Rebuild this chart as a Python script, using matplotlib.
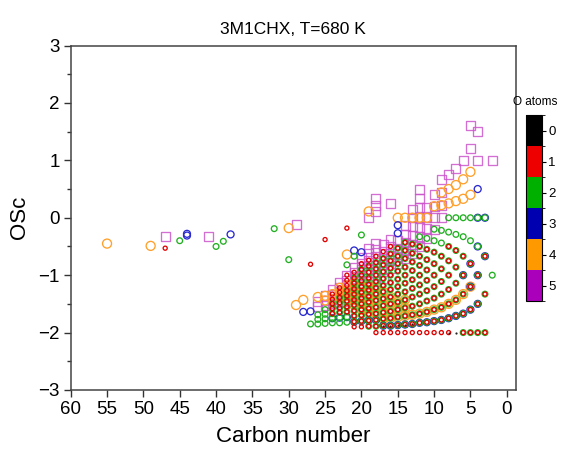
import matplotlib
matplotlib.use("Agg")
import matplotlib.pyplot as plt
from matplotlib.colors import ListedColormap, BoundaryNorm
from matplotlib.cm import ScalarMappable
from matplotlib.ticker import MultipleLocator

plt.rcParams['font.family'] = ['Liberation Sans', 'DejaVu Sans']

title = "3M1CHX, T=680 K"
x_label = "Carbon number"
y_label = "OSc"
x_ticks = [60, 55, 50, 45, 40, 35, 30, 25, 20, 15, 10, 5, 0]
y_ticks = [-3, -2, -1, 0, 1, 2, 3]
o_atom_labels = ["0", "1", "2", "3", "4", "5"]
o_atom_colors = ["#000000", "#ee0000", "#00b000", "#0000b0", "#ff9900", "#aa00bb"]

# OSc lattice values read per carbon number
LATTICE = {
    3: [-2.0, -1.33, -0.67, 0.0],
    4: [-2.0, -1.5, -1.0, -0.5, 0.0, 0.5, 1.0, 1.5],
    5: [-2.0, -1.6, -1.2, -0.8, -0.4, 0.0, 0.4, 0.8, 1.2, 1.6],
    6: [-2.0, -1.67, -1.33, -1.0, -0.67, -0.33, 0.0, 0.33, 0.67, 1.0],
    7: [-2.0, -1.71, -1.43, -1.14, -0.86, -0.57, -0.29, 0.0, 0.29, 0.57, 0.86],
    8: [-2.0, -1.75, -1.5, -1.25, -1.0, -0.75, -0.5, -0.25, 0.0, 0.25, 0.5, 0.75],
    9: [-2.0, -1.78, -1.56, -1.33, -1.11, -0.89, -0.67, -0.44, -0.22, 0.0, 0.22, 0.44, 0.67],
    10: [-2.0, -1.8, -1.6, -1.4, -1.2, -1.0, -0.8, -0.6, -0.4, -0.2, 0.0, 0.2, 0.4],
    11: [-2.0, -1.82, -1.64, -1.45, -1.27, -1.09, -0.91, -0.73, -0.55, -0.36, -0.18, 0.0, 0.18],
    12: [-2.0, -1.83, -1.67, -1.5, -1.33, -1.17, -1.0, -0.83, -0.67, -0.5, -0.33, -0.17, 0.0, 0.17, 0.33, 0.5],
    13: [-2.0, -1.85, -1.69, -1.54, -1.38, -1.23, -1.08, -0.92, -0.77, -0.62, -0.46, -0.31, -0.15, 0.0, 0.15],
    14: [-2.0, -1.86, -1.71, -1.57, -1.43, -1.29, -1.14, -1.0, -0.86, -0.71, -0.57, -0.43, -0.29, -0.14, 0.0],
    15: [-2.0, -1.87, -1.73, -1.6, -1.47, -1.33, -1.2, -1.07, -0.93, -0.8, -0.67, -0.53, -0.4, -0.27, -0.13, 0.0],
    16: [-2.0, -1.88, -1.75, -1.63, -1.5, -1.38, -1.25, -1.13, -1.0, -0.88, -0.75, -0.63, -0.5, -0.38],
    17: [-2.0, -1.88, -1.76, -1.65, -1.53, -1.41, -1.29, -1.18, -1.06, -0.94, -0.82, -0.71, -0.59, -0.47],
    18: [-2.0, -1.89, -1.78, -1.67, -1.56, -1.44, -1.33, -1.22, -1.11, -1.0, -0.89, -0.78, -0.67, -0.56, -0.44],
    19: [-1.89, -1.79, -1.68, -1.58, -1.47, -1.37, -1.26, -1.16, -1.05, -0.95, -0.84, -0.74, -0.63, -0.53],
    20: [-1.9, -1.8, -1.7, -1.6, -1.5, -1.4, -1.3, -1.2, -1.1, -1.0, -0.9, -0.8, -0.7],
    21: [-1.9, -1.81, -1.71, -1.62, -1.52, -1.43, -1.33, -1.24, -1.14, -1.05, -0.95, -0.86],
    22: [-1.82, -1.73, -1.64, -1.55, -1.45, -1.36, -1.27, -1.18, -1.09, -1.0],
    23: [-1.83, -1.74, -1.65, -1.57, -1.48, -1.39, -1.3, -1.22, -1.13],
    24: [-1.83, -1.75, -1.67, -1.58, -1.5, -1.42, -1.33, -1.25],
    25: [-1.84, -1.76, -1.68, -1.6, -1.52, -1.44, -1.36],
    26: [-1.85, -1.77, -1.69, -1.62, -1.54, -1.46, -1.38],
    27: [-1.85, -1.78, -1.7, -1.63],
}

# which lattice values carry each O-atom count: carbon -> [(low, high), ...]
RED_BANDS = {3: [(-2, -0.67)], 4: [(-2, -1.0)], 5: [(-2, -0.8)], 6: [(-2, -0.67)],
             7: [(-1.71, -0.57)], 8: [(-2, -0.5)], 9: [(-2, -0.6)], 10: [(-2, -0.6)],
             11: [(-2, -0.5)], 12: [(-2, -0.5)], 13: [(-2, -0.46)], 14: [(-2, -0.43)],
             15: [(-2, -0.53)], 16: [(-2, -0.5)], 17: [(-2, -0.59)], 18: [(-2, -0.67)],
             19: [(-1.89, -0.74)], 20: [(-1.9, -0.8)], 21: [(-1.9, -0.95)],
             22: [(-1.64, -1.0)], 23: [(-1.65, -1.22)], 24: [(-1.67, -1.33)]}
RED_EXTRA_C = [22, 25, 27, 47]
RED_EXTRA_OSC = [-0.18, -0.38, -0.81, -0.53]

GREEN_BANDS = {3: [(-2, 0)], 4: [(-2, 0)], 5: [(-2, 0)], 6: [(-2, 0)], 7: [(-1.71, 0)],
               8: [(-1.75, 0)], 9: [(-1.78, -0.22)], 10: [(-1.8, -0.2)], 11: [(-1.82, -0.36)],
               12: [(-1.83, -0.33)], 13: [(-1.85, -0.46)], 14: [(-1.86, -0.43)],
               15: [(-1.87, -0.53)], 16: [(-1.88, -0.63)], 17: [(-1.88, -0.71)],
               18: [(-1.89, -0.78)], 19: [(-1.89, -0.84)], 20: [(-1.8, -0.9)],
               21: [(-1.81, -1.05)], 22: [(-1.82, -1.27)], 23: [(-1.83, -1.39)],
               24: [(-1.83, -1.5)], 25: [(-1.84, -1.6)], 26: [(-1.85, -1.69)],
               27: [(-1.85, -1.85)]}
GREEN_EXTRA_C = [2, 20, 21, 22, 30, 32, 39, 40, 45]
GREEN_EXTRA_OSC = [-1.0, -0.3, -0.67, -0.82, -0.73, -0.19, -0.41, -0.5, -0.4]

BLUE_C = [4, 5, 6, 7, 8, 9, 10, 11, 12, 13, 14, 15, 16, 17,
          3, 3, 4, 4, 4, 4, 5, 5, 6,
          18, 19, 20, 21, 22, 23, 24,
          15, 15, 20, 21, 27, 28, 38, 44, 44]
BLUE_OSC = [-1.5, -1.6, -1.67, -1.71, -1.75, -1.78, -1.8, -1.82, -1.83, -1.85, -1.86, -1.87, -1.88, -1.88,
            -0.67, 0.0, -1.0, -0.5, 0.0, 0.5, -0.8, -1.2, -1.0,
            -1.78, -1.79, -1.8, -1.81, -1.73, -1.74, -1.75,
            -0.13, -0.27, -0.6, -0.57, -1.63, -1.64, -0.29, -0.28, -0.31]

ORANGE_BANDS = {5: [(-1.2, -1.2), (0.4, 0.8)], 6: [(-1.33, -1.33), (0.33, 0.67)],
                7: [(-1.43, -1.43), (0.29, 0.57)], 8: [(-1.5, -1.5), (0.25, 0.5)],
                9: [(-1.56, -1.56), (0.22, 0.44)], 10: [(-1.6, -1.6), (0.2, 0.2)],
                11: [(-1.64, -1.64), (0, 0)], 12: [(-1.67, -1.67), (0, 0)],
                13: [(-1.69, -1.69), (0, 0)], 14: [(-1.71, -1.43), (0, 0)],
                15: [(-1.73, -1.47), (0, 0)], 16: [(-1.75, -1.38)], 17: [(-1.76, -1.29)],
                18: [(-1.67, -1.22)], 19: [(-1.68, -1.16)], 20: [(-1.6, -1.2)],
                21: [(-1.52, -1.14)], 22: [(-1.45, -1.18)], 23: [(-1.39, -1.22)],
                24: [(-1.42, -1.33)], 25: [(-1.44, -1.36)], 26: [(-1.38, -1.38)]}
ORANGE_EXTRA_C = [19, 22, 28, 29, 30, 49, 55]
ORANGE_EXTRA_OSC = [0.11, -0.64, -1.43, -1.52, -0.18, -0.49, -0.45]

SQUARE_BANDS = {4: [(1.0, 1.5)], 5: [(1.2, 1.6)], 6: [(1.0, 1.0)], 7: [(0.86, 0.86)],
                8: [(0.75, 0.75)], 9: [(0, 0.67)], 10: [(-0.2, 0.4)], 11: [(-0.36, 0.18)],
                12: [(-0.5, 0.5)], 13: [(-0.62, 0.15)], 14: [(-0.71, -0.14)],
                15: [(-0.8, -0.4)], 16: [(-0.88, -0.38)], 17: [(-1.06, -0.47)],
                18: [(-1.11, -0.44)], 19: [(-1.26, -0.53)], 20: [(-1.3, -0.7)],
                21: [(-1.43, -0.86)], 22: [(-1.45, -1.0)], 23: [(-1.48, -1.13)],
                24: [(-1.5, -1.25)], 25: [(-1.52, -1.36)], 26: [(-1.54, -1.46)]}
SQUARE_EXTRA_C = [2, 16, 18, 18, 18, 19, 29, 41, 47]
SQUARE_EXTRA_OSC = [1.0, 0.25, 0.11, 0.22, 0.33, 0.0, -0.11, -0.32, -0.32]

BLACK_C = [7, 8, 13, 14, 15, 16, 17]
BLACK_OSC = [-2.0, -2.0, -1.85, -1.86, -1.87, -1.88, -1.88]


def select(bands, extra_c, extra_osc):
    xs, ys = [], []
    for c, ranges in bands.items():
        for v in LATTICE[c]:
            if any(lo - 1e-6 <= v <= hi + 1e-6 for lo, hi in ranges):
                xs.append(c)
                ys.append(v)
    return xs + list(extra_c), ys + list(extra_osc)


fig = plt.figure(figsize=(5.72, 4.59), dpi=100)
ax = fig.add_axes([70.7 / 572, 1 - 390 / 459, (515.5 - 70.7) / 572, (390 - 45.5) / 459])

lw = 0.95
sx, sy = select(SQUARE_BANDS, SQUARE_EXTRA_C, SQUARE_EXTRA_OSC)
ax.scatter(sx, sy, s=42, marker='s', facecolors='none', edgecolors='#cc55cc', linewidths=lw, alpha=0.85, zorder=2)
ox, oy = select(ORANGE_BANDS, ORANGE_EXTRA_C, ORANGE_EXTRA_OSC)
ax.scatter(ox, oy, s=42, marker='o', facecolors='none', edgecolors='#ffa02a', linewidths=lw, zorder=3)
ax.scatter(BLUE_C, BLUE_OSC, s=25, marker='o', facecolors='none', edgecolors='#2a2ad0', linewidths=lw, zorder=4)
gx, gy = select(GREEN_BANDS, GREEN_EXTRA_C, GREEN_EXTRA_OSC)
ax.scatter(gx, gy, s=17, marker='o', facecolors='none', edgecolors='#22b022', linewidths=lw, zorder=5)
rx, ry = select(RED_BANDS, RED_EXTRA_C, RED_EXTRA_OSC)
ax.scatter(rx, ry, s=8.5, marker='o', facecolors='none', edgecolors='#e00000', linewidths=lw, zorder=6)
ax.scatter(BLACK_C, BLACK_OSC, s=2.5, marker='o', color='#222222', linewidths=0, zorder=7)

ax.set_xlim(60, -1.2)
ax.set_ylim(-3, 3)
ax.set_xticks(x_ticks)
ax.set_yticks(y_ticks)
ax.yaxis.set_minor_locator(MultipleLocator(0.5))
ax.set_yticklabels([str(t).replace('-', '\u2212') for t in y_ticks])
ax.tick_params(axis='both', which='major', direction='out', length=5, width=1.0,
               labelsize=13.5, color='#333333', pad=3)
ax.tick_params(axis='y', which='minor', direction='out', length=3, width=1.0, color='#333333')
for sp in ax.spines.values():
    sp.set_color('#444444')
    sp.set_linewidth(1.1)
ax.set_xlabel(x_label, fontsize=16, labelpad=6)
ax.set_ylabel(y_label, fontsize=16, labelpad=6)
ax.set_title(title, fontsize=12.5, pad=8)

# discrete colour key
cax = fig.add_axes([526 / 572, 1 - 301 / 459, 15.5 / 572, 186 / 459])
cmap = ListedColormap(o_atom_colors)
norm = BoundaryNorm([-0.5, 0.5, 1.5, 2.5, 3.5, 4.5, 5.5], cmap.N)
cb = fig.colorbar(ScalarMappable(norm=norm, cmap=cmap), cax=cax, ticks=range(6))
cax.invert_yaxis()
cb.set_ticklabels(o_atom_labels)
cax.tick_params(labelsize=9.5, length=3, width=0.8, pad=2)
cb.outline.set_linewidth(0.8)
cax.set_title("O atoms", fontsize=8.5, pad=7, x=0.6)

fig.savefig("out.png", dpi=100)
